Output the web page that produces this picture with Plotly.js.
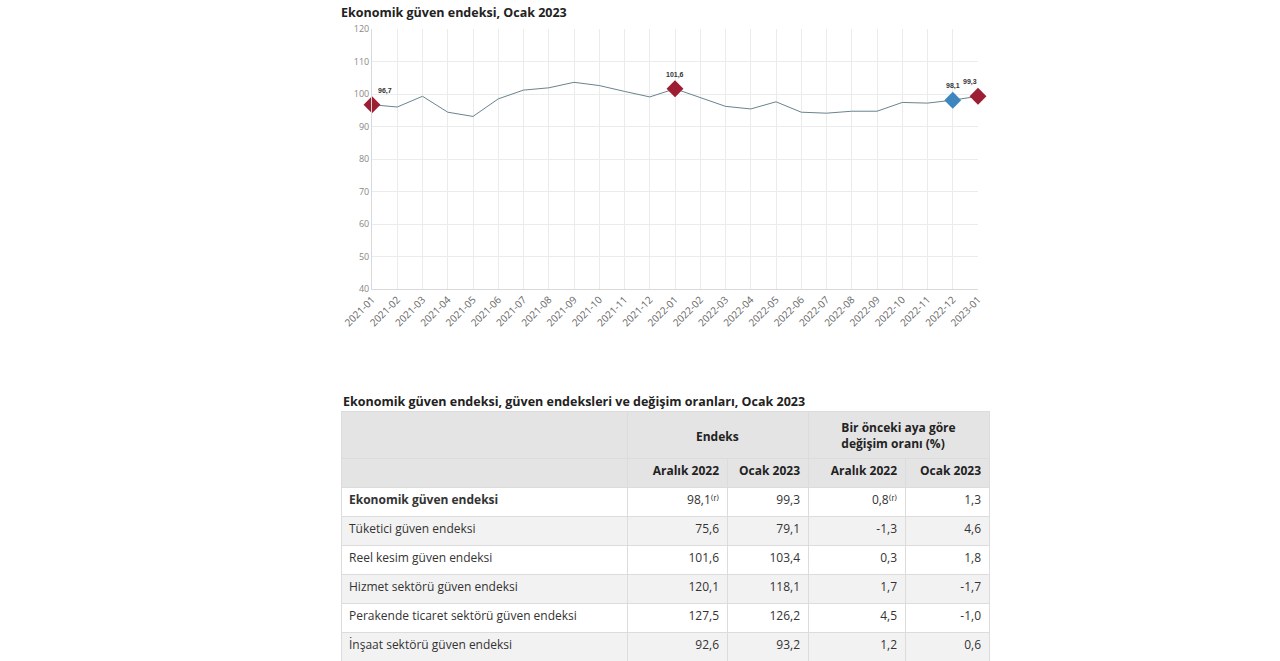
<!DOCTYPE html>
<html>
<head>
<meta charset="utf-8">
<script src="https://cdn.plot.ly/plotly-3.0.1.min.js"></script>
<style>
html,body{margin:0;padding:0;background:#fff;}
#chart{width:1280px;height:661px;}
</style>
</head>
<body>
<div id="chart"></div>
<script>
// ---- Chart data ----
const months = ['2021-01','2021-02','2021-03','2021-04','2021-05','2021-06','2021-07','2021-08','2021-09','2021-10','2021-11','2021-12',
                '2022-01','2022-02','2022-03','2022-04','2022-05','2022-06','2022-07','2022-08','2022-09','2022-10','2022-11','2022-12','2023-01'];
const indexValues = [96.7, 96.0, 99.3, 94.4, 93.1, 98.5, 101.2, 101.9, 103.6, 102.6, 100.8, 99.1,
                     101.6, 98.9, 96.2, 95.4, 97.6, 94.4, 94.1, 94.7, 94.7, 97.4, 97.2, 98.1, 99.3];
const redMarkMonths = ['2021-01','2022-01','2023-01'];
const blueMarkMonths = ['2022-12'];
const yTicks = [40,50,60,70,80,90,100,110,120];

// ---- Table data ----
const tableTitle = 'Ekonomik güven endeksi, güven endeksleri ve değişim oranları, Ocak 2023';
const chartTitle = 'Ekonomik güven endeksi, Ocak 2023';
const groupHeaders = ['', 'Endeks', 'Bir önceki aya göre<br>değişim oranı (%)'];
const subHeaders = ['', 'Aralık 2022', 'Ocak 2023', 'Aralık 2022', 'Ocak 2023'];
const rowNames = ['Ekonomik güven endeksi','Tüketici güven endeksi','Reel kesim güven endeksi','Hizmet sektörü güven endeksi','Perakende ticaret sektörü güven endeksi','İnşaat sektörü güven endeksi'];
const endeksAralik = ['98,1⁽ʳ⁾','75,6','101,6','120,1','127,5','92,6'];
const endeksOcak = ['99,3','79,1','103,4','118,1','126,2','93,2'];
const degisimAralik = ['0,8⁽ʳ⁾','-1,3','0,3','1,7','4,5','1,2'];
const degisimOcak = ['1,3','4,6','1,8','-1,7','-1,0','0,6'];

const W = 1280, H = 661;
const px = v => v / W;
const py = v => 1 - v / H;

const fmt = v => v.toFixed(1).replace('.', ',');
const pick = list => months.map((m,i)=>({m, v:indexValues[i]})).filter(o => list.includes(o.m));
const reds = pick(redMarkMonths), blues = pick(blueMarkMonths);

const lineTrace = {
  type:'scatter', mode:'lines', x:months, y:indexValues,
  line:{color:'#6a838e', width:1}, hoverinfo:'x+y', showlegend:false, cliponaxis:false
};
const redTrace = {
  type:'scatter', mode:'markers', x:reds.map(o=>o.m), y:reds.map(o=>o.v),
  marker:{symbol:'diamond', size:13, color:'#9d1d33', line:{width:0}}, showlegend:false, cliponaxis:false
};
const blueTrace = {
  type:'scatter', mode:'markers', x:blues.map(o=>o.m), y:blues.map(o=>o.v),
  marker:{symbol:'diamond', size:13, color:'#3f86bf', line:{width:0}}, showlegend:false, cliponaxis:false
};

const colW = [286, 100, 81, 97, 84];
const tblLeft = 341, tblW = colW.reduce((a,b)=>a+b,0);
const hdrFont = {family:'"Open Sans", sans-serif', size:12, color:'#222', weight:700};
const lineCol = '#dcdcdc';
const hdrFill = '#e4e4e4';

// group header row (its lower part is covered by the sub-header table drawn after it)
const groupTable = {
  type:'table',
  domain:{x:[px(tblLeft), px(tblLeft+tblW)], y:[py(520), py(411)]},
  columnwidth:[colW[0], colW[1]+colW[2], colW[3]+colW[4]],
  header:{
    values: groupHeaders.map((h,i) => (h && i!==1) ? '<b>'+h+'</b>' : ''),
    align:'center', height:47, fill:{color:hdrFill},
    line:{color:lineCol, width:1}, font:hdrFont
  },
  cells:{values:[[''],[''],['']], height:20, fill:{color:hdrFill}, line:{color:lineCol, width:1}}
};

const fillCol = rowNames.map((_,i)=> i%2===0 ? '#ffffff' : '#f2f2f2');
const weightCol0 = rowNames.map((_,i)=> i===0 ? 700 : 400);
const mainTable = {
  type:'table',
  domain:{x:[px(tblLeft), px(tblLeft+tblW)], y:[0, py(458)]},
  columnwidth: colW,
  header:{
    values: subHeaders,
    align:['left','right','right','right','right'], height:29,
    fill:{color:hdrFill}, line:{color:lineCol, width:1}, font:hdrFont
  },
  cells:{
    values:[rowNames, endeksAralik, endeksOcak, degisimAralik, degisimOcak],
    align:['left','right','right','right','right'], height:29,
    fill:{color:[fillCol,fillCol,fillCol,fillCol,fillCol]},
    line:{color:lineCol, width:1},
    font:{family:'"Open Sans", sans-serif', size:12, color:'#333', weight:[weightCol0,400,400,400,400]}
  }
};

const labelAnn = (o, xs) => ({
  x:o.m, y:o.v, xref:'x', yref:'y', text:'<b>'+fmt(o.v)+'</b>', showarrow:false,
  font:{family:'Arial, sans-serif', size:7, color:'#333'}, yshift:8, xshift:xs, yanchor:'bottom'
});
const endeksCenter = tblLeft + colW[0] + (colW[1]+colW[2])/2;
const annotations = [
  labelAnn(reds[0], 13),
  labelAnn(reds[1], 0),
  labelAnn(blues[0], 0),
  labelAnn(reds[2], -8),
  {x:px(tblLeft), y:py(401), xref:'paper', yref:'paper', xanchor:'left', yanchor:'middle', showarrow:false,
   text:'<b>'+tableTitle+'</b>', font:{family:'"Open Sans", sans-serif', size:12.5, color:'#222'}},
  {x:px(endeksCenter), y:py(436), xref:'paper', yref:'paper', xanchor:'center', yanchor:'middle', showarrow:false,
   text:'<b>'+groupHeaders[1]+'</b>', font:{family:'"Open Sans", sans-serif', size:12, color:'#222'}}
];

const layout = {
  width:W, height:H, margin:{l:0,r:0,t:0,b:0},
  paper_bgcolor:'#fff', plot_bgcolor:'#fff',
  title:{text:'<b>'+chartTitle+'</b>', x:px(341), xanchor:'left', xref:'paper', y:py(13), yanchor:'middle', yref:'paper',
         font:{family:'"Open Sans", sans-serif', size:12.5, color:'#222'}},
  xaxis:{domain:[px(372), px(978)], type:'category', range:[0, months.length-1], tickangle:-45,
         showgrid:true, gridcolor:'#ebebeb', gridwidth:1, showline:true, linecolor:'#d9d9d9', zeroline:false,
         ticks:'', tickfont:{family:'"Open Sans", sans-serif', size:10, color:'#666'}, fixedrange:true},
  yaxis:{domain:[py(289), py(29)], range:[40,120], tickvals:yTicks, ticktext:yTicks.map(String),
         showgrid:true, gridcolor:'#ebebeb', gridwidth:1, showline:true, linecolor:'#d9d9d9', zeroline:false,
         ticks:'', tickfont:{family:'"Open Sans", sans-serif', size:9, color:'#888'}, fixedrange:true},
  annotations, showlegend:false
};

Plotly.newPlot('chart', [lineTrace, redTrace, blueTrace, groupTable, mainTable], layout, {displayModeBar:false});
</script>
</body>
</html>
